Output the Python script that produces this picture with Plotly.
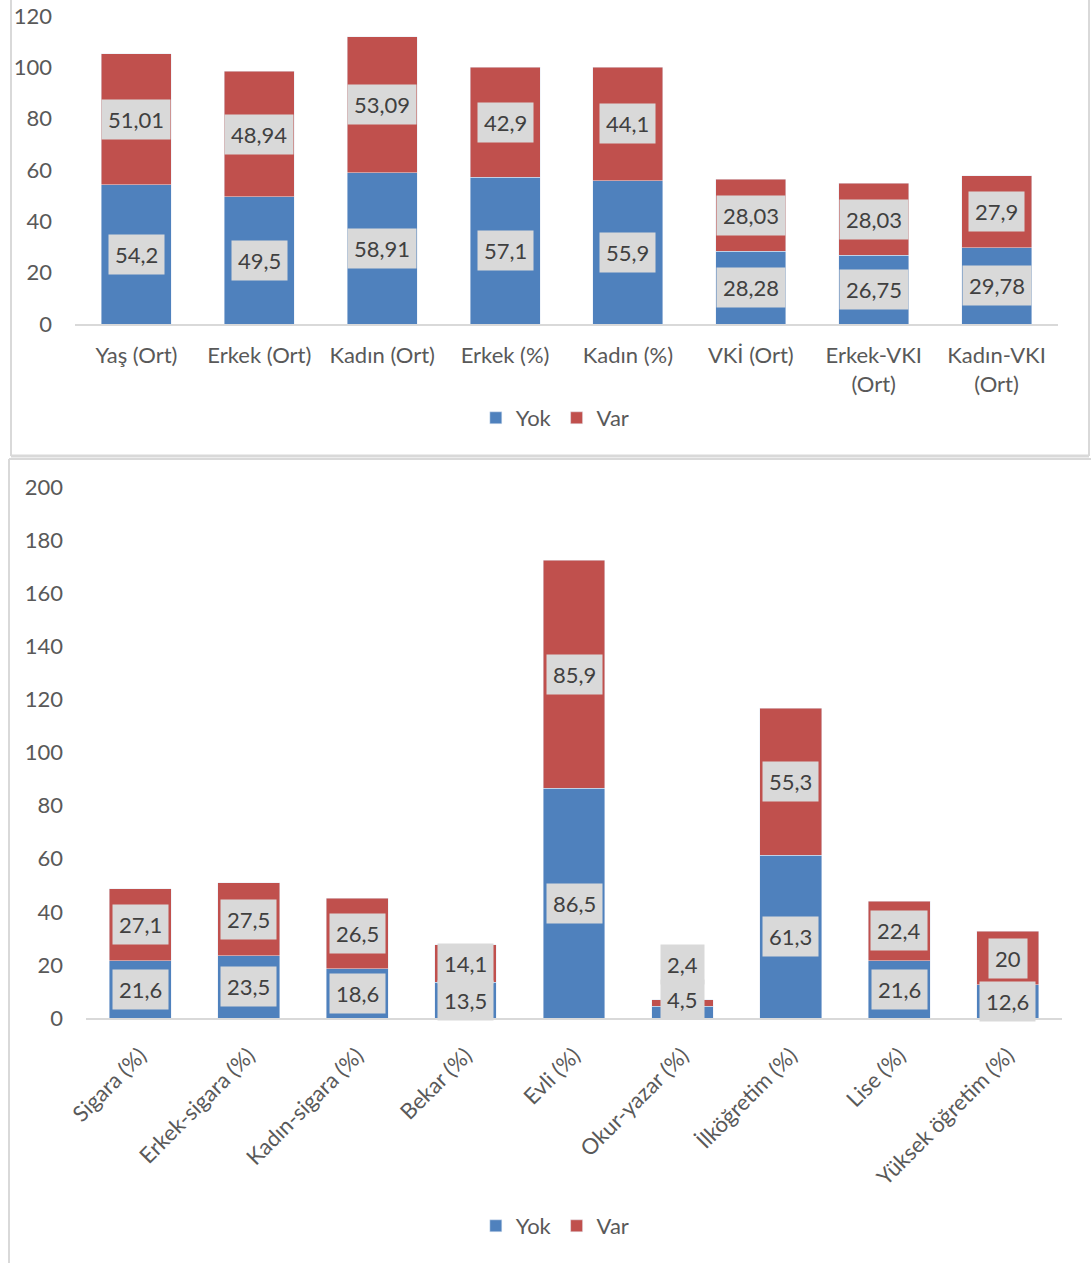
import plotly.graph_objects as go

# ---------------- data ----------------
top_categories = ["Yaş (Ort)", "Erkek (Ort)", "Kadın (Ort)", "Erkek (%)", "Kadın (%)",
                  "VKİ (Ort)", "Erkek-VKI<br>(Ort)", "Kadın-VKI<br>(Ort)"]
top_yok = [54.2, 49.5, 58.91, 57.1, 55.9, 28.28, 26.75, 29.78]
top_var = [51.01, 48.94, 53.09, 42.9, 44.1, 28.03, 28.03, 27.9]

bot_categories = ["Sigara (%)", "Erkek-sigara (%)", "Kadın-sigara (%)", "Bekar (%)", "Evli (%)",
                  "Okur-yazar (%)", "İlköğretim (%)", "Lise (%)", "Yüksek öğretim (%)"]
bot_yok = [21.6, 23.5, 18.6, 13.5, 86.5, 4.5, 61.3, 21.6, 12.6]
bot_var = [27.1, 27.5, 26.5, 14.1, 85.9, 2.4, 55.3, 22.4, 20]

series_names = ["Yok", "Var"]

# ---------------- style ----------------
BLUE = "#4F81BD"
RED = "#C0504D"
AXIS = "#D9D9D9"
TXT = "#595959"
LBL = "#404040"
FONT = "Lato"
FS = 22
W, H = 1091, 1263


def fmt(v):
    s = ("%g" % v)
    return s.replace(".", ",")


def py(pix):
    return 1 - pix / H


def px(pix):
    return pix / W


fig = go.Figure()

# top chart
fig.add_trace(go.Bar(x=top_categories, y=top_yok, name=series_names[0], marker_color=BLUE,
                     xaxis="x", yaxis="y", legend="legend", width=0.57))
fig.add_trace(go.Bar(x=top_categories, y=top_var, name=series_names[1], marker_color=RED,
                     xaxis="x", yaxis="y", legend="legend", width=0.57))
# bottom chart
fig.add_trace(go.Bar(x=bot_categories, y=bot_yok, name=series_names[0], marker_color=BLUE,
                     xaxis="x2", yaxis="y2", legend="legend2", width=0.57))
fig.add_trace(go.Bar(x=bot_categories, y=bot_var, name=series_names[1], marker_color=RED,
                     xaxis="x2", yaxis="y2", legend="legend2", width=0.57))

annotations = []
# Okur-yazar labels were moved apart to avoid overlap (layout offsets in axis units)
label_override = {"Okur-yazar (%)": (6.8, 20.3)}


def add_labels(cats, yok, var, xr, yr, overrides=None):
    overrides = overrides or {}
    for i, c in enumerate(cats):
        y1 = yok[i] / 2
        y2 = yok[i] + var[i] / 2
        if c in overrides:
            y1, y2 = overrides[c]
        for yy, v in ((y1, yok[i]), (y2, var[i])):
            annotations.append(dict(x=c, y=yy, xref=xr, yref=yr, text=fmt(v), showarrow=False,
                                    font=dict(family=FONT, size=FS, color=LBL),
                                    bgcolor="#D9D9D9", borderpad=6))


add_labels(top_categories, top_yok, top_var, "x", "y")
add_labels(bot_categories, bot_yok, bot_var, "x2", "y2", overrides=label_override)

shapes = [
    # top panel border
    dict(type="line", xref="paper", yref="paper", x0=px(11), x1=px(11), y0=py(0), y1=py(456),
         line=dict(color=AXIS, width=2)),
    dict(type="line", xref="paper", yref="paper", x0=px(11), x1=px(1089), y0=py(456), y1=py(456),
         line=dict(color=AXIS, width=3)),
    dict(type="line", xref="paper", yref="paper", x0=px(1089), x1=px(1089), y0=py(0), y1=py(456),
         line=dict(color=AXIS, width=2)),
    # bottom panel border
    dict(type="line", xref="paper", yref="paper", x0=px(9), x1=px(1091), y0=py(459), y1=py(459),
         line=dict(color=AXIS, width=2)),
    dict(type="line", xref="paper", yref="paper", x0=px(9), x1=px(9), y0=py(459), y1=py(1263),
         line=dict(color=AXIS, width=2)),
]
# leader line between the moved Okur-yazar labels
lo = label_override["Okur-yazar (%)"]
shapes.append(dict(type="line", xref="x2", yref="y2", x0="Okur-yazar (%)", x1="Okur-yazar (%)",
                   y0=lo[0], y1=lo[1], layer="above", line=dict(color="#A6A6A6", width=1)))

fig.update_layout(
    width=W, height=H,
    margin=dict(l=0, r=0, t=0, b=0),
    paper_bgcolor="white", plot_bgcolor="white",
    barmode="stack", bargap=0.43,
    font=dict(family=FONT, size=FS, color=TXT),
    showlegend=True,
    xaxis=dict(domain=[px(75), px(1058)], anchor="y", showline=True, linecolor=AXIS, linewidth=2,
               ticks="", tickfont=dict(family=FONT, size=FS, color=TXT), ticklabelstandoff=11,
               showgrid=False, zeroline=False, automargin=False, ticklabeloverflow="allow"),
    yaxis=dict(domain=[py(324), py(16)], anchor="x", range=[0, 120], dtick=20, showgrid=False,
               zeroline=False, showline=False, ticks="", ticklabelstandoff=22, automargin=False,
               ticklabeloverflow="allow",
               tickfont=dict(family=FONT, size=FS, color=TXT)),
    xaxis2=dict(domain=[px(86), px(1062)], anchor="y2", showline=True, linecolor=AXIS, linewidth=2,
                ticks="", tickangle=-45, tickfont=dict(family=FONT, size=FS, color=TXT),
                ticklabelstandoff=14, showgrid=False, zeroline=False, automargin=False,
                ticklabeloverflow="allow"),
    yaxis2=dict(domain=[py(1018), py(487)], anchor="x2", range=[0, 200], dtick=20, showgrid=False,
                zeroline=False, showline=False, ticks="", ticklabelstandoff=22, automargin=False,
                ticklabeloverflow="allow",
                tickfont=dict(family=FONT, size=FS, color=TXT)),
    legend=dict(orientation="h", x=0.509, xanchor="center", y=py(418), yanchor="middle",
                traceorder="normal", font=dict(family=FONT, size=FS, color=TXT),
                itemwidth=30, bgcolor="rgba(0,0,0,0)"),
    legend2=dict(orientation="h", x=0.509, xanchor="center", y=py(1226), yanchor="middle",
                 traceorder="normal", font=dict(family=FONT, size=FS, color=TXT),
                 itemwidth=30, bgcolor="rgba(0,0,0,0)"),
    annotations=annotations,
    shapes=shapes,
)

fig.write_html("out.html")
